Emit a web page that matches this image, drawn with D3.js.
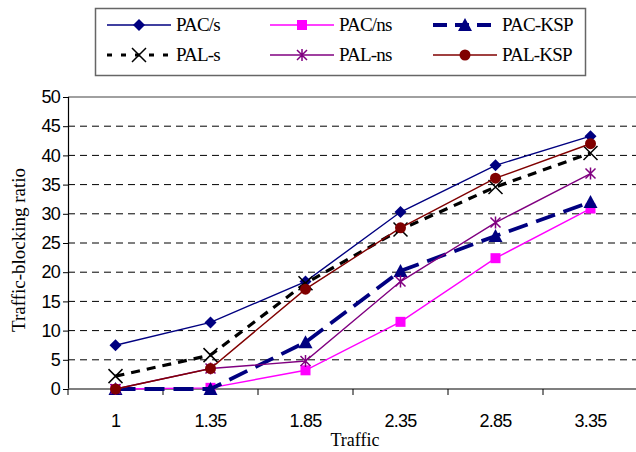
<!DOCTYPE html>
<html>
<head>
<meta charset="utf-8">
<script src="https://cdnjs.cloudflare.com/ajax/libs/d3/7.8.5/d3.min.js"></script>
<style>
  body { margin: 0; background: #fff; }
  svg { display: block; }
</style>
</head>
<body>
<div id="container"></div>
<script>
const width = 636;
const height = 452;

// data
const traffic = ["1", "1.35", "1.85", "2.35", "2.85", "3.35"];
const yTicks = [0, 5, 10, 15, 20, 25, 30, 35, 40, 45, 50];
const pacS   = [7.5, 11.4, 18.4, 30.3, 38.3, 43.3];
const pacNs  = [0, 0.2, 3.2, 11.5, 22.4, 30.9];
const pacKsp = [0, 0, 8, 20.2, 26.2, 32];
const palS   = [2.2, 5.8, 18.1, 27.3, 34.6, 40.4];
const palNs  = [0, 3.5, 4.8, 18.4, 28.5, 36.9];
const palKsp = [0, 3.5, 17.1, 27.6, 36.1, 42];

const series = [
  {name: "PAC/s",   values: pacS,   color: "#000080", w: 1.4, dash: null,  marker: "diamond"},
  {name: "PAC/ns",  values: pacNs,  color: "#ff00ff", w: 1.4, dash: null,  marker: "square"},
  {name: "PAC-KSP", values: pacKsp, color: "#000080", w: 3.8, dash: "20,9", marker: "triangle"},
  {name: "PAL-s",   values: palS,   color: "#000000", w: 3.2, dash: "9,7", marker: "x"},
  {name: "PAL-ns",  values: palNs,  color: "#800080", w: 1.4, dash: null,  marker: "star"},
  {name: "PAL-KSP", values: palKsp, color: "#800000", w: 1.4, dash: null,  marker: "circle"}
];

const plot = {left: 68, right: 638, top: 97, bottom: 389};

const svg = d3.select("div#container")
  .append("svg")
  .attr("width", width)
  .attr("height", height);

const x = d3.scaleBand().domain(traffic).range([plot.left, plot.right]);
const y = d3.scaleLinear().domain([0, 50]).range([plot.bottom, plot.top]);

// gridlines
svg.append("g")
  .selectAll("line")
  .data(yTicks.filter(d => d > 0 && d < 50))
  .enter()
  .append("line")
  .attr("x1", plot.left).attr("x2", plot.right)
  .attr("y1", d => y(d)).attr("y2", d => y(d))
  .attr("stroke", "#000")
  .attr("stroke-width", 1)
  .attr("stroke-dasharray", "7,5");

svg.append("line")
  .attr("x1", plot.left).attr("x2", plot.right)
  .attr("y1", y(50)).attr("y2", y(50))
  .attr("stroke", "#808080").attr("stroke-width", 1.5);

// y axis
const yAxis = d3.axisLeft(y).tickValues(yTicks).tickSize(5).tickPadding(3);
const gy = svg.append("g")
  .attr("transform", "translate(" + plot.left + ",0)")
  .call(yAxis);
gy.select(".domain").attr("stroke", "#000").attr("stroke-width", 1.2);
gy.selectAll(".tick line").attr("stroke", "#000");
gy.selectAll("text")
  .style("font-family", "'Liberation Sans', Arial, sans-serif")
  .style("font-size", "18px")
  .attr("fill", "#000")
  .attr("letter-spacing", "-0.8px");

// x axis, ticks on the band edges
const gx = svg.append("g")
  .attr("transform", "translate(0," + plot.bottom + ")");
gx.append("line")
  .attr("x1", plot.left).attr("x2", plot.right)
  .attr("stroke", "#555").attr("stroke-width", 1.5);
gx.selectAll(".edge")
  .data(traffic)
  .enter()
  .append("line")
  .attr("class", "edge")
  .attr("x1", d => x(d)).attr("x2", d => x(d))
  .attr("y1", 0).attr("y2", 6)
  .attr("stroke", "#000");
gx.selectAll(".lab")
  .data(traffic)
  .enter()
  .append("text")
  .attr("class", "lab")
  .attr("x", d => x(d) + x.bandwidth() / 2)
  .attr("y", 38)
  .attr("text-anchor", "middle")
  .attr("letter-spacing", "-0.8px")
  .style("font-family", "'Liberation Sans', Arial, sans-serif")
  .style("font-size", "18px")
  .text(d => d);

// axis titles
svg.append("text")
  .attr("x", 355).attr("y", 446)
  .attr("text-anchor", "middle")
  .style("font-family", "'Liberation Serif', 'Times New Roman', serif")
  .style("font-size", "18px")
  .text("Traffic");

svg.append("text")
  .attr("transform", "translate(25,250) rotate(-90)")
  .attr("text-anchor", "middle")
  .style("font-family", "'Liberation Serif', 'Times New Roman', serif")
  .style("font-size", "19px")
  .text("Traffic-blocking ratio");

function drawMarker(g, type, color, cx, cy) {
  if (type === "diamond") {
    g.append("path")
      .attr("d", "M" + cx + "," + (cy - 6) + "L" + (cx + 6) + "," + cy + "L" + cx + "," + (cy + 6) + "L" + (cx - 6) + "," + cy + "Z")
      .attr("fill", color);
  } else if (type === "square") {
    g.append("rect")
      .attr("x", cx - 5).attr("y", cy - 5).attr("width", 10).attr("height", 10)
      .attr("fill", color);
  } else if (type === "triangle") {
    g.append("path")
      .attr("d", "M" + cx + "," + (cy - 7) + "L" + (cx + 7) + "," + (cy + 6) + "L" + (cx - 7) + "," + (cy + 6) + "Z")
      .attr("fill", color);
  } else if (type === "x") {
    g.append("path")
      .attr("d", "M" + (cx - 7) + "," + (cy - 7) + "L" + (cx + 7) + "," + (cy + 7) + "M" + (cx + 7) + "," + (cy - 7) + "L" + (cx - 7) + "," + (cy + 7))
      .attr("stroke", color).attr("stroke-width", 1.5).attr("fill", "none");
  } else if (type === "star") {
    g.append("path")
      .attr("d", "M" + (cx - 5) + "," + (cy - 5) + "L" + (cx + 5) + "," + (cy + 5) + "M" + (cx + 5) + "," + (cy - 5) + "L" + (cx - 5) + "," + (cy + 5) + "M" + cx + "," + (cy - 6) + "L" + cx + "," + (cy + 6))
      .attr("stroke", color).attr("stroke-width", 1.5).attr("fill", "none");
  } else if (type === "circle") {
    g.append("circle")
      .attr("cx", cx).attr("cy", cy).attr("r", 5.5)
      .attr("fill", color);
  }
}

const line = d3.line()
  .x((d, i) => x(traffic[i]) + x.bandwidth() / 2)
  .y(d => y(d));

series.forEach(function(s) {
  const g = svg.append("g");
  g.append("path")
    .attr("d", line(s.values))
    .attr("fill", "none")
    .attr("stroke", s.color)
    .attr("stroke-width", s.w)
    .attr("stroke-dasharray", s.dash);
  s.values.forEach(function(v, i) {
    drawMarker(g, s.marker, s.color, x(traffic[i]) + x.bandwidth() / 2, y(v));
  });
});

// legend
const legend = svg.append("g");
legend.append("rect")
  .attr("x", 95.5).attr("y", 8.5).attr("width", 490).attr("height", 67)
  .attr("fill", "#fff")
  .attr("stroke", "#666").attr("stroke-width", 1.5);

const colX = [107, 270, 433];
const rowY = [25, 55];
series.forEach(function(s, i) {
  const lx = colX[i % 3];
  const ly = rowY[Math.floor(i / 3)];
  const g = legend.append("g");
  g.append("line")
    .attr("x1", lx).attr("x2", lx + 64)
    .attr("y1", ly).attr("y2", ly)
    .attr("stroke", s.color)
    .attr("stroke-width", s.w)
    .attr("stroke-dasharray", s.dash ? (s.name === "PAL-s" ? "5,9" : "14,8") : null);
  drawMarker(g, s.marker, s.color, lx + 32, ly);
  g.append("text")
    .attr("x", lx + 69).attr("y", ly + 6)
    .attr("letter-spacing", "-0.8px")
    .style("font-family", "'Liberation Serif', 'Times New Roman', serif")
    .style("font-size", "19px")
    .text(s.name);
});
</script>
</body>
</html>
